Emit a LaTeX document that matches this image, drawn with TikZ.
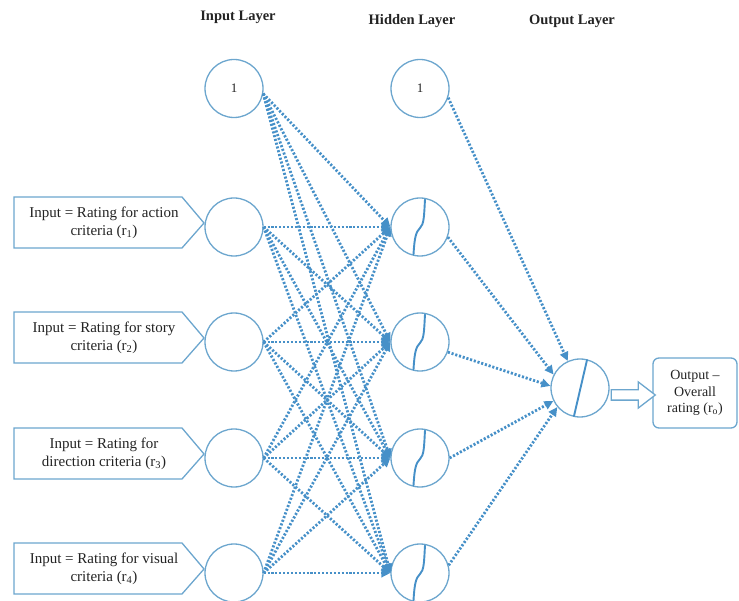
\documentclass[tikz,border=0pt]{standalone}
\usepackage{fontspec}
\setmainfont{Liberation Serif}
\usetikzlibrary{arrows.meta,calc,shapes.arrows}
\definecolor{dotblue}{RGB}{70,144,200}
\definecolor{ringblue}{RGB}{108,166,206}
\definecolor{inkgray}{RGB}{35,35,35}
\begin{document}
\begin{tikzpicture}[x=1pt,y=-1pt,
  neuron/.style={circle,draw=ringblue,line width=1.3pt,minimum size=58pt,
    inner sep=0pt,fill=white,font=\fontsize{13}{15}\selectfont,text=inkgray},
  link/.style={draw=dotblue,line width=2.8pt,dash pattern=on 2.1pt off 1.8pt,
    -{Triangle[length=9pt,width=8.5pt]}},
  squiggle/.style={draw=dotblue,line width=1.9pt,line cap=round},
  heading/.style={font=\bfseries\fontsize{14.5}{17}\selectfont,text=inkgray},
  cbtext/.style={align=center,font=\fontsize{15}{18}\selectfont,text=inkgray,inner sep=0pt},
  cbox/.style={draw=ringblue,line width=1.3pt,line join=miter},
  outbox/.style={draw=ringblue,line width=1.3pt,rounded corners=6pt,align=center,
    minimum width=84pt,minimum height=70pt,inner sep=0pt,
    font=\fontsize{14}{16.5}\selectfont,text=inkgray},
  hollow/.style={single arrow,draw=ringblue,line width=1.3pt,fill=white,
    minimum height=44pt,inner xsep=0pt,inner ysep=4.5pt,
    single arrow head extend=8pt,single arrow tip angle=75}
]
\useasboundingbox (0,0) rectangle (739,601);

% layer titles
\node[heading] (tin)  at (238,17) {Input Layer};
\node[heading] (thid) at (412,21) {Hidden Layer};
\node[heading] (tout) at (572,21) {Output Layer};

% bias units
\node[neuron] (b1) at (234,88.5) {1};
\node[neuron] (hb) at (420,88.5) {1};

% input and hidden units
\foreach \i/\yy in {1/227,2/342,3/458,4/573}{
  \node[neuron] (in\i) at (234,\yy) {};
  \node[neuron] (h\i) at (420,\yy) {};
}

% output unit and its label
\node[neuron] (out) at (580,388) {};
\node[outbox] (ob) at (695,393) {Output –\\Overall\\rating (r\textsubscript{o})};

% input call-outs
\foreach \i/\yy/\txt in {
  1/227/{Input = Rating for action\\criteria (r\textsubscript{1})},
  2/342/{Input = Rating for story\\criteria (r\textsubscript{2})},
  3/458/{Input = Rating for\\direction criteria (r\textsubscript{3})},
  4/573/{Input = Rating for visual\\criteria (r\textsubscript{4})}}{
  \draw[cbox] (14,\yy-30) -- (182,\yy-30) -- (204,\yy-4) -- (182,\yy+21)
    -- (14,\yy+21) -- cycle;
  \node[cbtext] (c\i) at (104,\yy-4) {\txt};
}

% weights: input layer to hidden layer
\foreach \j in {1,...,4}{
  \draw[link] (b1.-10) -- (h\j.west);
  \foreach \i in {1,...,4}{
    \draw[link] (in\i.east) -- (h\j.west);
  }
}

% weights: hidden layer to output
\draw[link] (hb.-18) -- (out);
\draw[link] (h1.-20) -- (out.153);
\draw[link] (h2.-20) -- (out.176);
\draw[link] (h3.0)   -- (out.206);
\draw[link] (h4.15)  -- (out.220);

% activation marks
\foreach \j in {1,...,4}{
  \begin{scope}[shift={(h\j.center)}]
    \draw[squiggle] (5,-27.5) .. controls (4,-10) and (4,-3) .. (0,1)
      .. controls (-4,5) and (-5.5,10) .. (-6.5,27.5);
  \end{scope}
}
\draw[squiggle] ($(out.center)+(7,-28)$) -- ($(out.center)+(-6,28)$);

% result arrow
\node[hollow,anchor=tail] (arr) at ($(out.east)+(1,7)$) {};
\end{tikzpicture}
\end{document}
